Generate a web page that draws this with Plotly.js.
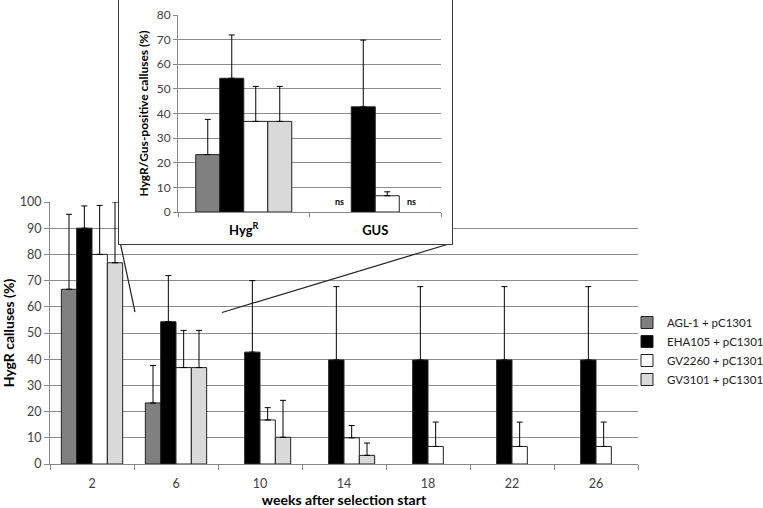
<!DOCTYPE html>
<html>
<head>
<meta charset="utf-8">
<script src="https://cdn.plot.ly/plotly-3.0.1.min.js"></script>
<style>
  html, body { margin:0; padding:0; background:#fff; }
  #wrap { position:relative; width:763px; height:508px; overflow:hidden; }
  #main { position:absolute; left:0; top:0; width:763px; height:508px; }
  #inset { position:absolute; left:118px; top:-1px; width:333px; height:244px;
           border:1.5px solid #3a3a3a; background:#fff; }
</style>
</head>
<body>
<div id="wrap">
  <div id="main"></div>
  <div id="inset"></div>
</div>
<script>
// ---------- data ----------
const weeks = ["2", "6", "10", "14", "18", "22", "26"];
const seriesNames = ["AGL-1 + pC1301", "EHA105 + pC1301", "GV2260 + pC1301", "GV3101 + pC1301"];
const seriesColors = ["#808080", "#000000", "#ffffff", "#d9d9d9"];

const agl1   = [66.7, 23.3, null, null, null, null, null];
const eha105 = [90.0, 54.3, 42.7, 39.7, 39.7, 39.7, 39.7];
const gv2260 = [80.0, 36.8, 16.8, 10.0, 6.7, 6.7, 6.7];
const gv3101 = [76.8, 36.8, 10.2, 3.3, null, null, null];

const agl1Err   = [28.6, 14.3, null, null, null, null, null];
const eha105Err = [8.5, 17.6, 27.3, 28.0, 28.0, 28.0, 28.0];
const gv2260Err = [18.7, 14.2, 4.7, 4.7, 9.3, 9.3, 9.3];
const gv3101Err = [23.2, 14.2, 14.1, 4.7, null, null, null];

const insetCats = ["Hyg<sup>R</sup>", "GUS"];
const insetAgl1   = [23.3, null];
const insetEha105 = [54.3, 42.7];
const insetGv2260 = [36.8, 6.6];
const insetGv3101 = [36.8, null];
const insetAgl1Err   = [14.3, null];
const insetEha105Err = [17.6, 27.1];
const insetGv2260Err = [14.2, 1.6];
const insetGv3101Err = [14.2, null];
// "ns" labels: [category, series index, text]
const insetNsLabels = [["GUS", 0, "ns"], ["GUS", 3, "ns"]];

// ---------- helpers ----------
const FONT = "Lato, 'Open Sans', sans-serif";
function barTrace(x, y, err, i) {
  return {
    type: "bar", x: x, y: y, name: seriesNames[i], legendgroup: "g" + i,
    marker: { color: seriesColors[i], line: { color: "#222", width: 1 } },
    error_y: { type: "data", symmetric: false, array: err,
               arrayminus: err.map(() => 0), color: "#000", thickness: 1, width: 3 }
  };
}

// ---------- main chart ----------
const mainData = [
  barTrace(weeks, agl1, agl1Err, 0),
  barTrace(weeks, eha105, eha105Err, 1),
  barTrace(weeks, gv2260, gv2260Err, 2),
  barTrace(weeks, gv3101, gv3101Err, 3)
];
function px(x) { return (x - 50) / 588; }
function py(y) { return (464 - y) / 262; }
const mainLayout = {
  width: 763, height: 508,
  margin: { l: 50, r: 125, t: 202, b: 44, autoexpand: false },
  paper_bgcolor: "#fff", plot_bgcolor: "#fff",
  font: { family: FONT, size: 12, color: "#404040" },
  barmode: "group", bargap: 0.27, bargroupgap: 0,
  showlegend: true,
  legend: { x: px(627), xanchor: "left", y: py(308), yanchor: "top",
            font: { family: FONT, size: 11.5, color: "#222" }, traceorder: "normal",
            tracegroupgap: 5, bgcolor: "rgba(0,0,0,0)" },
  xaxis: {
    type: "category", tickson: "boundaries", ticks: "outside", ticklen: 5,
    tickcolor: "#888", showline: true, linecolor: "#888", linewidth: 1,
    showgrid: false, ticklabelstandoff: 8,
    tickfont: { family: FONT, size: 12.5, color: "#404040" },
    title: { text: "weeks after selection start", standoff: 15,
             font: { family: FONT, size: 14, color: "#000", weight: "bold" } }
  },
  yaxis: {
    range: [0, 100], dtick: 10, ticks: "outside", ticklen: 5, tickcolor: "#888",
    showline: true, linecolor: "#888", linewidth: 1,
    showgrid: true, gridcolor: "#8c8c8c", gridwidth: 1, zeroline: false,
    tickfont: { family: FONT, size: 12.5, color: "#404040" },
    title: { text: "HygR calluses (%)", standoff: 8,
             font: { family: FONT, size: 14, color: "#000", weight: "bold" } }
  },
  shapes: [
    { type: "line", xref: "paper", yref: "paper",
      x0: px(120.5), y0: py(244), x1: px(135), y1: py(312),
      line: { color: "#222", width: 1.2 } },
    { type: "line", xref: "paper", yref: "paper",
      x0: px(452), y0: py(243), x1: px(222), y1: py(312.5),
      line: { color: "#222", width: 1.2 } }
  ]
};
Plotly.newPlot("main", mainData, mainLayout, { displayModeBar: false, staticPlot: true });

// ---------- inset chart ----------
const insetData = [
  barTrace(insetCats, insetAgl1, insetAgl1Err, 0),
  barTrace(insetCats, insetEha105, insetEha105Err, 1),
  barTrace(insetCats, insetGv2260, insetGv2260Err, 2),
  barTrace(insetCats, insetGv3101, insetGv3101Err, 3)
];
const insetMargin = { l: 59, r: 11, t: 15, b: 32, autoexpand: false };
const insetBargap = 0.27;
const insetCatWidth = (333 - insetMargin.l - insetMargin.r) / insetCats.length;
const barW = (1 - insetBargap) / seriesNames.length;
const insetAnnotations = insetNsLabels.map(([cat, idx, txt]) => ({
  xref: "x", yref: "y", x: cat, y: 0, yanchor: "bottom", showarrow: false,
  xshift: (-(1 - insetBargap) / 2 + barW * (idx + 0.5)) * insetCatWidth, yshift: 3,
  text: txt, font: { family: FONT, size: 9, color: "#000", weight: "bold" }
}));
const insetLayout = {
  width: 333, height: 244,
  margin: insetMargin,
  paper_bgcolor: "#fff", plot_bgcolor: "#fff",
  font: { family: FONT, size: 11, color: "#404040" },
  barmode: "group", bargap: insetBargap, bargroupgap: 0,
  showlegend: false,
  annotations: insetAnnotations,
  xaxis: {
    type: "category", tickson: "boundaries", ticks: "outside", ticklen: 4,
    tickcolor: "#888", showline: true, linecolor: "#888", linewidth: 1, showgrid: false,
    ticklabelstandoff: 6,
    tickfont: { family: FONT, size: 13, color: "#000", weight: "bold" }
  },
  yaxis: {
    range: [0, 80], dtick: 10, ticks: "outside", ticklen: 4, tickcolor: "#888",
    showline: true, linecolor: "#888", linewidth: 1,
    showgrid: true, gridcolor: "#8c8c8c", gridwidth: 1, zeroline: false,
    tickfont: { family: FONT, size: 12, color: "#404040" },
    title: { text: "HygR/Gus-positive calluses (%)", standoff: 5,
             font: { family: FONT, size: 12, color: "#000", weight: "bold" } }
  }
};
Plotly.newPlot("inset", insetData, insetLayout, { displayModeBar: false, staticPlot: true });
</script>
</body>
</html>
